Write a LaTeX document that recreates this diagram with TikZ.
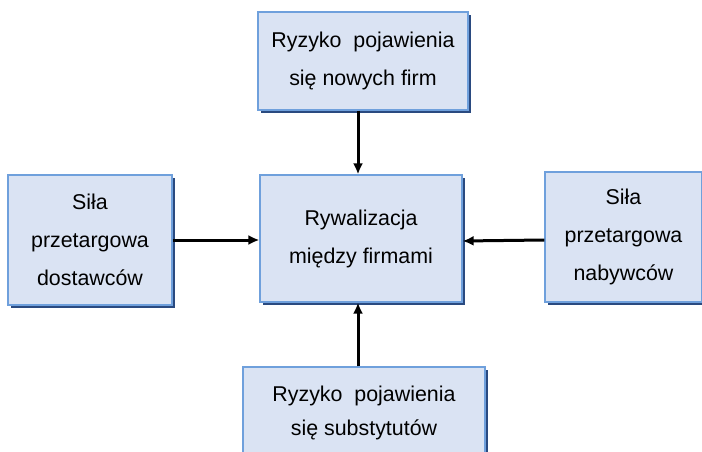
\documentclass[tikz,border=0pt]{standalone}
\usepackage{fontspec}
\setmainfont{Liberation Sans}
\usetikzlibrary{arrows.meta,shadows}
\definecolor{boxfill}{HTML}{DAE3F3}
\definecolor{boxline}{HTML}{6FA0DC}
\definecolor{boxshadow}{HTML}{2A4A80}
\tikzset{
  box/.style={draw=boxline, line width=1.2pt, fill=boxfill, rectangle, align=center,
    font=\fontsize{21.4}{38}\selectfont, inner sep=0pt,
    drop shadow={shadow xshift=2.5pt, shadow yshift=-3pt, fill=boxshadow, opacity=1}},
  arr/.style={line width=3pt, -{Latex[length=11pt,width=10pt]}}
}
\begin{document}
\begin{tikzpicture}[x=1pt,y=-1pt]
\useasboundingbox (0,0) rectangle (702,452);
\node[box, minimum width=210pt, minimum height=98pt] (top) at (363,61) {Ryzyko\ \ pojawienia\\się nowych firm};
\node[box, minimum width=164pt, minimum height=130pt] (left) at (90,240) {Siła\\przetargowa\\dostawców};
\node[box, minimum width=202pt, minimum height=127pt] (c) at (361,238.5) {Rywalizacja\\między firmami};
\node[box, minimum width=157pt, minimum height=130pt] (right) at (623.5,237) {Siła\\przetargowa\\nabywców};
\node[box, minimum width=242pt, minimum height=92pt, font=\fontsize{21.4}{34}\selectfont] (bot) at (364,413) {Ryzyko\ \ pojawienia\\się substytutów};
\draw[arr] ([xshift=-5pt]top.south) -- ([xshift=-3pt]c.north);
\draw[arr] (left.east |- 0,240) -- (c.west |- 0,240);
\draw[arr] (right.west |- 0,240) -- (c.east |- 0,241);
\draw[arr] ([xshift=-6pt]bot.north) -- ([xshift=-3pt]c.south);
\end{tikzpicture}
\end{document}
